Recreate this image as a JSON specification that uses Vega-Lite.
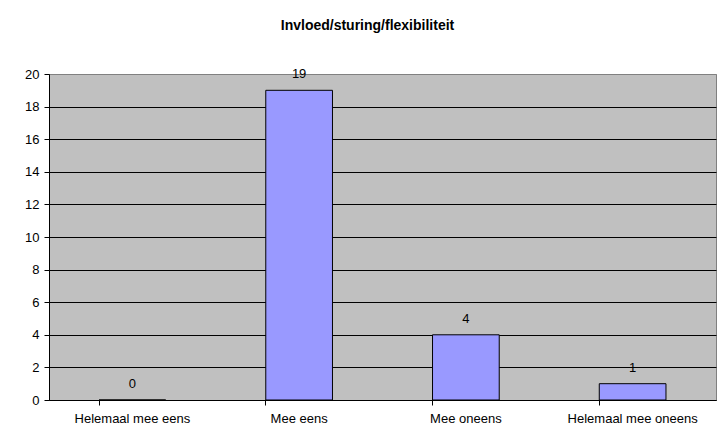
{
  "$schema": "https://vega.github.io/schema/vega-lite/v6.json",
  "width": 667,
  "height": 326,
  "autosize": "none",
  "padding": {"left": 49, "top": 74, "right": 2, "bottom": 44},
  "background": "white",
  "title": {
    "text": "Invloed/sturing/flexibiliteit",
    "font": "Liberation Sans",
    "fontSize": 14,
    "fontWeight": "bold",
    "color": "black",
    "anchor": "middle",
    "frame": "group",
    "dx": -15,
    "baseline": "alphabetic",
    "offset": 24
  },
  "config": {
    "font": "Liberation Sans",
    "view": {"fill": "#C0C0C0", "stroke": "#808080", "strokeWidth": 1}
  },
  "data": {
    "values": [
      {"antwoord": "Helemaal mee eens", "aantal": 0},
      {"antwoord": "Mee eens", "aantal": 19},
      {"antwoord": "Mee oneens", "aantal": 4},
      {"antwoord": "Helemaal mee oneens", "aantal": 1}
    ]
  },
  "encoding": {
    "x": {
      "field": "antwoord",
      "type": "nominal",
      "sort": null,
      "scale": {"paddingInner": 0.6, "paddingOuter": 0.3},
      "axis": {
        "title": null,
        "labelAngle": 0,
        "bandPosition": 0,
        "grid": false,
        "tickSize": 5,
        "tickColor": "black",
        "domainColor": "black",
        "labelFont": "Liberation Sans",
        "labelFontSize": 13,
        "labelColor": "black",
        "labelPadding": 7
      }
    },
    "y": {
      "field": "aantal",
      "type": "quantitative",
      "scale": {"domain": [0, 20], "nice": false},
      "axis": {
        "title": null,
        "values": [0, 2, 4, 6, 8, 10, 12, 14, 16, 18, 20],
        "grid": true,
        "gridColor": {"condition": {"test": "datum.value === 20", "value": "#808080"}, "value": "black"},
        "gridOpacity": 1,
        "gridWidth": 1,
        "tickSize": 5,
        "tickColor": "black",
        "domainColor": "black",
        "labelFont": "Liberation Sans",
        "labelFontSize": 13,
        "labelColor": "black",
        "labelPadding": 5
      }
    }
  },
  "layer": [
    {"mark": {"type": "bar", "fill": "#9999FF", "stroke": "black", "strokeWidth": 1}},
    {
      "mark": {"type": "text", "dy": -16, "baseline": "middle", "fontSize": 13, "color": "black", "font": "Liberation Sans"},
      "encoding": {"text": {"field": "aantal", "type": "quantitative"}}
    }
  ]
}
